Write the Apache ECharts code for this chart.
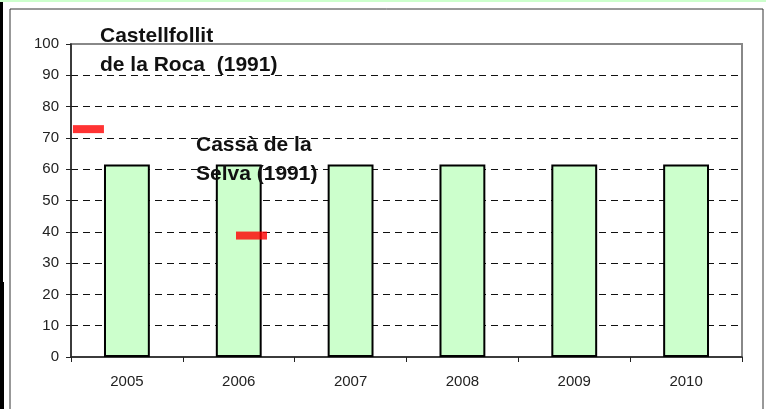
<!DOCTYPE html>
<html>
<head>
<meta charset="utf-8">
<script src="https://cdn.jsdelivr.net/npm/echarts@6/dist/echarts.min.js"></script>
<style>
  html, body { margin: 0; padding: 0; background: #fff; }
  #chart { width: 766px; height: 409px; }
</style>
</head>
<body>
<div id="chart"></div>
<script>
const years = ['2005', '2006', '2007', '2008', '2009', '2010']
const barValues = [61.5, 61.5, 61.5, 61.5, 61.5, 61.5]
// red dash markers: [position along the category span, value]
const markerPoints = [
  [0.156, 72.8],
  [1.614, 38.8],
]
const yTicks = { min: 0, max: 100, interval: 10 }
const labelCastellfollit = 'Castellfollit\nde la Roca  (1991)'
const labelCassa = 'Cassà de la\nSelva (1991)'

const font = '"Liberation Sans", Arial, sans-serif'
const chart = echarts.init(document.getElementById('chart'))

chart.setOption({
  animation: false,
  backgroundColor: '#fff',
  grid: {
    left: 71,
    top: 44,
    right: 24,
    bottom: 52,
    show: true,
    borderColor: '#888',
    borderWidth: 2,
  },
  xAxis: [
    {
      type: 'category',
      data: years,
      boundaryGap: true,
      axisLine: { lineStyle: { color: '#222', width: 1.5 } },
      axisTick: { show: true, length: 5, lineStyle: { color: '#222' } },
      axisLabel: { color: '#222', fontSize: 15, fontFamily: font, margin: 17 },
      splitLine: { show: false },
    },
    {
      type: 'value',
      min: 0,
      max: years.length,
      show: false,
      position: 'bottom',
    },
  ],
  yAxis: {
    type: 'value',
    min: yTicks.min,
    max: yTicks.max,
    interval: yTicks.interval,
    axisLine: { show: true, lineStyle: { color: '#222', width: 1.5 } },
    axisTick: { show: true, length: 5, lineStyle: { color: '#222' } },
    axisLabel: { color: '#222', fontSize: 15, fontFamily: font, margin: 12 },
    splitLine: {
      showMinLine: false,
      showMaxLine: false,
      lineStyle: { color: '#111', type: [7, 5], width: 1 },
    },
  },
  series: [
    {
      type: 'bar',
      data: barValues,
      barWidth: '41%',
      itemStyle: {
        color: '#ccffcc',
        borderColor: '#000',
        borderWidth: 2,
      },
    },
    {
      type: 'scatter',
      xAxisIndex: 1,
      data: markerPoints,
      symbol: 'rect',
      symbolSize: [31, 8],
      itemStyle: { color: '#ff0000' },
      z: 5,
    },
  ],
  graphic: [
    { type: 'rect', shape: { x: 0, y: 0, width: 766, height: 2 }, style: { fill: '#ccffcc' }, silent: true },
    { type: 'rect', shape: { x: 10, y: 9, width: 753, height: 420 }, style: { fill: 'none', stroke: '#333', lineWidth: 1 }, silent: true },
    { type: 'rect', shape: { x: 0, y: 2, width: 3, height: 407 }, style: { fill: '#000' }, silent: true },
    { type: 'rect', shape: { x: 0, y: 282, width: 4, height: 127 }, style: { fill: '#000' }, silent: true },
    {
      type: 'text',
      left: 100,
      top: 22,
      z: 10,
      style: {
        text: labelCastellfollit,
        font: 'bold 21px ' + font,
        fill: '#111',
        lineHeight: 29,
      },
    },
    {
      type: 'text',
      left: 196,
      top: 131,
      z: 10,
      style: {
        text: labelCassa,
        font: 'bold 21px ' + font,
        fill: '#111',
        lineHeight: 29,
      },
    },
  ],
})
</script>
</body>
</html>
